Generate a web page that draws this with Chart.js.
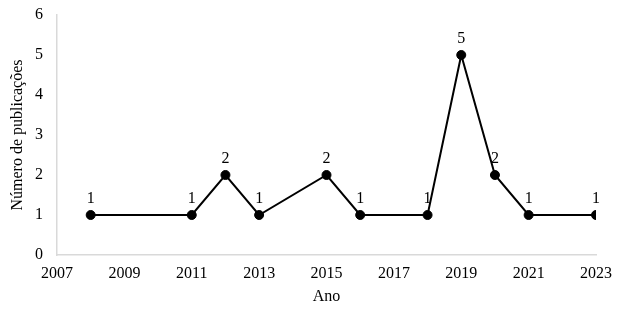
<!DOCTYPE html>
<html>
<head>
<meta charset="utf-8">
<script src="https://cdn.jsdelivr.net/npm/chart.js@4/dist/chart.umd.min.js"></script>
<style>
  html,body{margin:0;padding:0;background:#fff;}
  #wrap{width:624px;height:317px;position:relative;}
</style>
</head>
<body>
<div id="wrap"><canvas id="c"></canvas></div>
<script>
// ── Data ─────────────────────────────────────
const years = [2008, 2011, 2012, 2013, 2015, 2016, 2018, 2019, 2020, 2021, 2023];
const counts = [1, 1, 2, 1, 2, 1, 1, 5, 2, 1, 1];
const xTitle = 'Ano';
const yTitle = 'Número de publicações';

const serif = "'Liberation Serif','Times New Roman',serif";
const axisColor = '#d9d9d9';

// labels drawn above each point
const pointLabels = {
  id: 'pointLabels',
  afterDatasetsDraw(chart) {
    const ctx = chart.ctx;
    const meta = chart.getDatasetMeta(0);
    ctx.save();
    ctx.font = '16px ' + serif;
    ctx.fillStyle = '#000';
    ctx.textAlign = 'center';
    ctx.textBaseline = 'alphabetic';
    meta.data.forEach((pt, i) => {
      ctx.fillText(String(counts[i]), pt.x, pt.y - 12);
    });
    ctx.restore();
  }
};

new Chart(document.getElementById('c'), {
  type: 'line',
  data: {
    datasets: [{
      data: years.map((y, i) => ({x: y, y: counts[i]})),
      borderColor: '#000', borderWidth: 2,
      pointRadius: 4.5, pointBackgroundColor: '#000', pointBorderColor: '#000', pointBorderWidth: 1,
      tension: 0, fill: false
    }]
  },
  options: {
    responsive: true, maintainAspectRatio: false, animation: false,
    layout: {padding: {left: 0, top: 15, right: 28, bottom: 0}},
    plugins: {legend: {display: false}, tooltip: {enabled: false}},
    scales: {
      x: {
        type: 'linear', min: 2007, max: 2023,
        afterFit: s => { s.height = 62; },
        grid: {display: false, drawTicks: true, tickLength: 9},
        border: {display: true, color: axisColor, width: 1.5},
        ticks: {stepSize: 2, padding: 0, color: '#000', font: {family: serif, size: 16}, callback: v => String(v), maxRotation: 0},
        title: {display: true, text: xTitle, color: '#000', font: {family: serif, size: 16}, padding: {top: 0, bottom: 11}}
      },
      y: {
        min: 0, max: 6,
        afterFit: s => { s.width = 57; },
        grid: {display: false, drawTicks: true, tickLength: 14},
        border: {display: true, color: axisColor, width: 1.5},
        ticks: {stepSize: 1, padding: 0, color: '#000', font: {family: serif, size: 16}},
        title: {display: true, text: yTitle, color: '#000', font: {family: serif, size: 16}, padding: {top: 8, bottom: 0}}
      }
    }
  },
  plugins: [pointLabels]
});
</script>
</body>
</html>
